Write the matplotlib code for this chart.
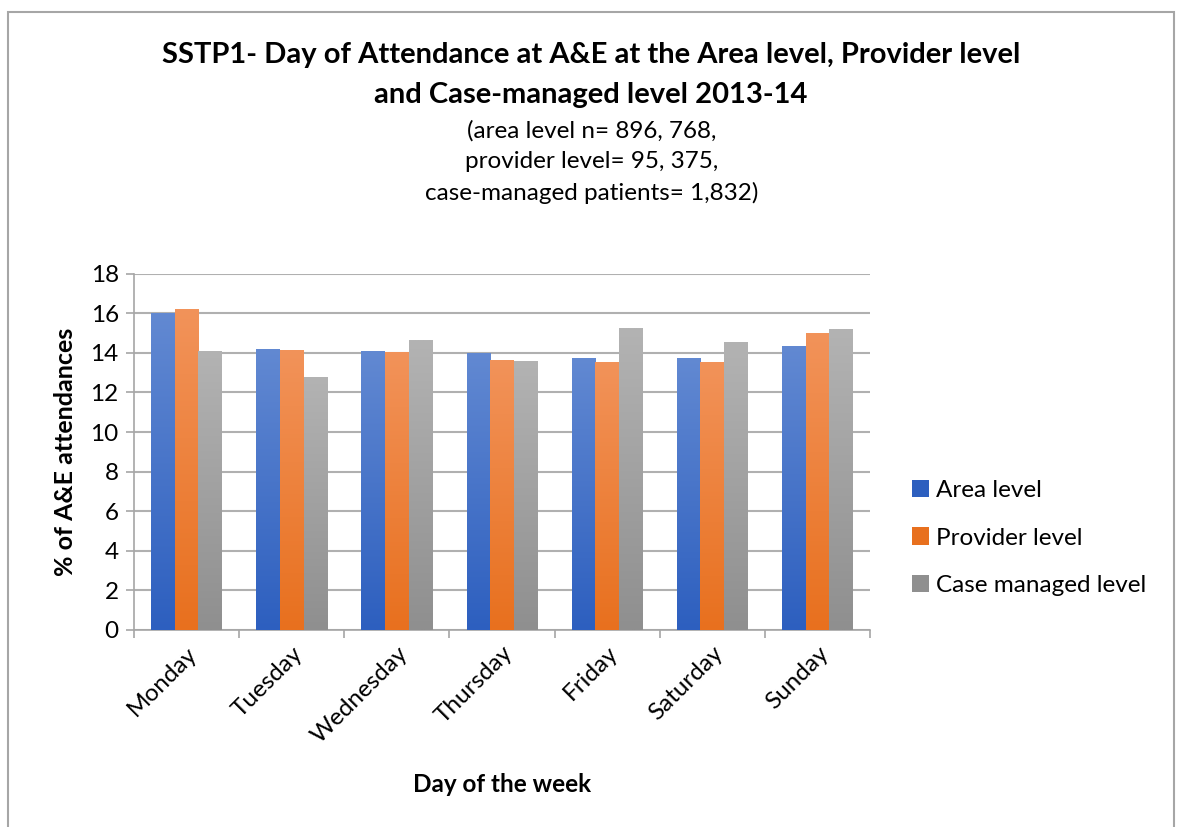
import numpy as np
import matplotlib.pyplot as plt
from matplotlib.colors import LinearSegmentedColormap
from matplotlib.patches import Rectangle, Patch

plt.rcParams['font.family'] = ['Lato', 'DejaVu Sans']

days = ['Monday', 'Tuesday', 'Wednesday', 'Thursday', 'Friday', 'Saturday', 'Sunday']
area = [16.0, 14.2, 14.1, 14.0, 13.75, 13.75, 14.35]
provider = [16.2, 14.15, 14.05, 13.65, 13.55, 13.55, 15.0]
case_managed = [14.1, 12.8, 14.65, 13.6, 15.25, 14.55, 15.2]
series_names = ['Area level', 'Provider level', 'Case managed level']

# top colour, bottom colour for the excel-like gradient
grads = [('#6289d2', '#2d5fbf'), ('#f2935a', '#e8701e'), ('#b3b3b3', '#8f8f8f')]

fig = plt.figure(figsize=(11.77, 8.27), dpi=100)
ax = fig.add_axes([134 / 1177, 1 - 630 / 827, (870 - 134) / 1177, (630 - 273.7) / 827])

x = np.arange(len(days))
w = 0.225
grad = np.linspace(0, 1, 256).reshape(-1, 1)
for i, vals in enumerate([area, provider, case_managed]):
    cmap = LinearSegmentedColormap.from_list('g%d' % i, [grads[i][1], grads[i][0]])
    bars = ax.bar(x + (i - 1) * w, vals, w, color='none', edgecolor='none', zorder=3)
    for b in bars:
        x0, y0 = b.get_x(), b.get_y()
        im = ax.imshow(grad, cmap=cmap, aspect='auto', origin='lower',
                       extent=[x0, x0 + b.get_width(), y0, y0 + b.get_height()], zorder=3)
        im.set_clip_path(b)

ax.set_xlim(-0.5, len(days) - 0.5)
ax.set_ylim(0, 18)
ax.set_yticks(range(0, 19, 2))
ax.set_xticks(np.arange(-0.5, len(days), 1))
ax.set_xticklabels([])
ax.set_xticks(x, minor=True)
ax.set_xticklabels(days, minor=True, rotation=45, ha='right', rotation_mode='anchor', fontsize=17.5)
ax.tick_params(axis='x', which='minor', length=0, pad=9)
ax.tick_params(axis='x', which='major', length=6, color='#a6a6a6', width=1.2)
ax.tick_params(axis='y', length=6, color='#a6a6a6', width=1.2, labelsize=17.5, pad=5)
ax.grid(axis='y', color='#b0b0b0', linewidth=1.5, zorder=0)
ax.set_axisbelow(True)
for s in ['top', 'right']:
    ax.spines[s].set_visible(False)
for s in ['left', 'bottom']:
    ax.spines[s].set_color('#a6a6a6')
    ax.spines[s].set_linewidth(1.2)

ax.set_ylabel('% of A&E attendances', fontsize=18, fontweight='bold', labelpad=10)
fig.text(502 / 1177, 1 - 785 / 827, 'Day of the week', fontsize=17.5, fontweight='bold',
         ha='center', va='center')

fig.text(591 / 1177, 1 - 55 / 827, 'SSTP1- Day of Attendance at A&E at the Area level, Provider level',
         fontsize=21, fontweight='bold', ha='center', va='center')
fig.text(591 / 1177, 1 - 95 / 827, 'and Case-managed level 2013-14',
         fontsize=21, fontweight='bold', ha='center', va='center')
subs = ['(area level n= 896, 768,', 'provider level= 95, 375,', 'case-managed patients= 1,832)']
for k, t in enumerate(subs):
    fig.text(592 / 1177, 1 - (131 + 31 * k) / 827, t, fontsize=17.5, ha='center', va='center')

handles = [Patch(facecolor=grads[i][1]) for i in range(3)]
fig.legend(handles, series_names, loc='center left', bbox_to_anchor=(890 / 1177, 1 - 538 / 827),
           frameon=False, fontsize=17.5, handlelength=0.7, handleheight=0.7, handletextpad=0.3,
           labelspacing=1.1)

fig.patches.append(Rectangle((8 / 1177, -0.1), (1174 - 8) / 1177, 1.1 - 12 / 827,
                             transform=fig.transFigure, fill=False, edgecolor='#a6a6a6', linewidth=1.5))

fig.savefig('out.png', dpi=100)
